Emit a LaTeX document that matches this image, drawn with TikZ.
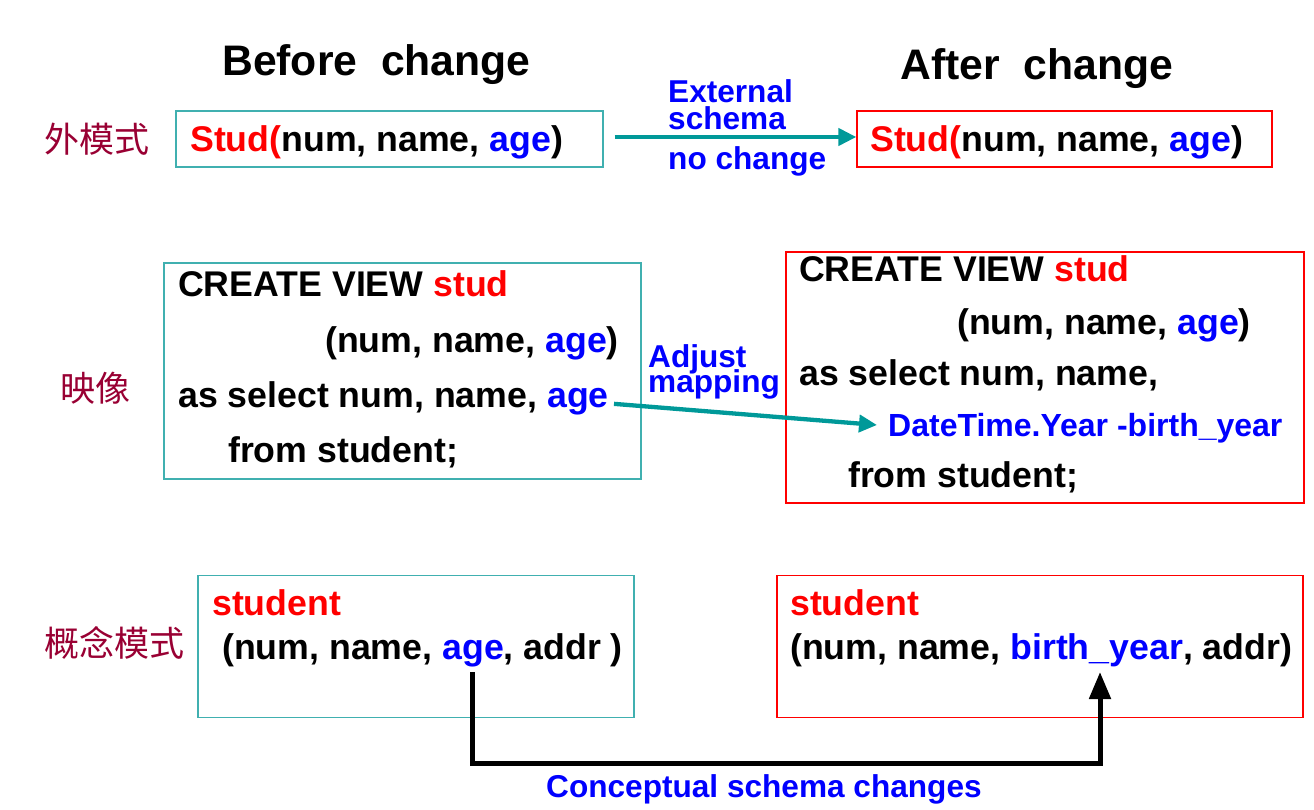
\documentclass[tikz,border=0pt]{standalone}
\usepackage{fontspec}
\setmainfont{Liberation Sans}
\newfontfamily\cjkf{Noto Sans CJK SC}
\usetikzlibrary{arrows.meta}
\definecolor{tealbox}{RGB}{64,176,176}
\definecolor{tealarrow}{RGB}{0,153,153}
\definecolor{maroonlbl}{RGB}{153,0,51}
\definecolor{myred}{RGB}{255,0,0}
\definecolor{myblue}{RGB}{0,0,255}
\newcommand{\rd}[1]{\textcolor{myred}{#1}}
\newcommand{\bl}[1]{\textcolor{myblue}{#1}}
\tikzset{
  tbox/.style={draw=tealbox, line width=1.3pt, inner sep=0pt},
  rbox/.style={draw=myred, line width=1.3pt, inner sep=0pt},
  code/.style={anchor=base west, inner sep=0pt, font=\fontsize{35.7}{40}\selectfont\bfseries},
  title/.style={anchor=base west, inner sep=0pt, font=\fontsize{42.7}{48}\selectfont\bfseries},
  lbl/.style={anchor=base west, inner sep=0pt, text=myblue, font=\fontsize{31.6}{34}\selectfont\bfseries},
  cjklbl/.style={anchor=west, inner sep=0pt, text=maroonlbl, font=\fontsize{35}{40}\selectfont\cjkf},
  tarrow/.style={draw=tealarrow, line width=4.3pt, -{Triangle[length=18pt,width=17pt]}},
  karrow/.style={draw=black, line width=5pt, -{Triangle[length=27pt,width=21pt]}},
}
\begin{document}
\begin{tikzpicture}[x=1pt,y=-1pt]
\useasboundingbox (0,0) rectangle (1314,810);
% titles
\node[title] (tb) at (222,76) {Before\ \ change};
\node[title] (ta) at (900,80) {After\ \ change};
% chinese labels
\node[cjklbl] (l1) at (44,139) {外模式};
\node[cjklbl] (l2) at (60,388) {映像};
\node[cjklbl] (l3) at (44,643) {概念模式};
% boxes
\node[tbox, minimum width=427, minimum height=56] (extA) at (389.5,139) {};
\node[rbox, minimum width=415, minimum height=56] (extB) at (1064.5,139) {};
\node[tbox, minimum width=477, minimum height=216] (mapA) at (402.5,371) {};
\node[rbox, minimum width=518, minimum height=251] (mapB) at (1045,377.5) {};
\node[tbox, minimum width=436, minimum height=142] (conA) at (416,646.5) {};
\node[rbox, minimum width=526, minimum height=142] (conB) at (1040,646.5) {};
% external texts
\node[code] (eA) at (190,152) {\rd{Stud(}num, name, \bl{age})};
\node[code] (eB) at (870,152) {\rd{Stud(}num, name, \bl{age})};
% mapping before
\node[code] (c1) at (178,296) {CREATE VIEW \rd{stud}};
\node[code] (c2) at (325,352) {(num, name, \bl{age})};
\node[code] (c3) at (178,407) {as select num, name, \bl{age}};
\node[code] (c4) at (228,462) {from student;};
% mapping after
\node[code] (d1) at (799,282) {CREATE VIEW \rd{stud}};
\node[code] (d2) at (957,334) {(num, name, \bl{age})};
\node[code] (d3) at (799,385) {as select num, name,};
\node[code, text=myblue, font=\fontsize{32}{34}\selectfont\bfseries] (d4) at (888,436) {DateTime.Year -birth\_year};
\node[code] (d5) at (848,487) {from student;};
% conceptual
\node[code, text=myred] (s1) at (212,615) {student};
\node[code] (s2) at (222,659) {(num, name, \bl{age}, addr )};
\node[code, text=myred] (t1) at (790,615) {student};
\node[code] (t2) at (790,659) {(num, name, \bl{birth\_year}, addr)};
% arrow labels
\node[lbl] (x1) at (668,103) {External};
\node[lbl] (x2) at (668,130) {schema};
\node[lbl] (x3) at (668,170) {no change};
\node[lbl] (m1) at (648,367) {Adjust};
\node[lbl] (m2) at (648,392) {mapping};
\node[lbl] (cs) at (546,797) {Conceptual schema changes};
% connectors
\draw[tarrow] ([xshift=11pt,yshift=2pt]extA.east) -- ([yshift=2pt]extB.west);
\draw[tarrow] ([xshift=5pt,yshift=-6pt]c3.east) -- ([xshift=-11pt,yshift=11pt]d4.base west);
\coordinate (ageE) at (472,672);
\coordinate (byF) at (1100,672);
\coordinate (bot) at (0,763);
\draw[karrow] (ageE) -- (ageE |- bot) -| (byF);
\end{tikzpicture}
\end{document}
